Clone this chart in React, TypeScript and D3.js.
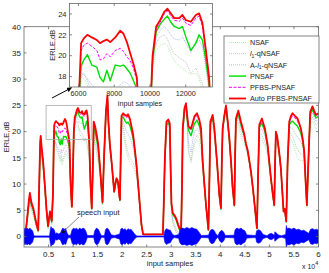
import React, { useRef, useEffect } from "react";
import * as d3 from "d3";

// sample index (x axis), shared by every ERLE curve
const samples = [
  0, 300, 700, 1000, 1200, 1500, 1900, 2300, 2600, 2900, 3150, 3300, 3400, 3600, 3900, 4250, 4600, 4900, 5100, 5300, 5500, 5650,
  5900, 6050, 6150, 6300, 6500, 6750, 7030, 7210, 7400, 7590, 7780, 8060, 8340, 8520, 8710, 8900, 9080, 9270, 9500, 9750, 9900,
  10150, 10350, 10570, 10800, 10980, 11170, 11360, 11640, 11820, 12010, 12290, 12570, 12750, 12940, 13130, 13310,
  13550, 13800, 14000, 14200, 14500, 14800, 15120, 15500, 16000, 16300, 16700, 17000, 17200, 17500, 17840, 18370, 18700, 18850, 19050, 19180, 19400, 19550,
  19700, 19870, 20200, 20500, 20900, 21200, 21560, 21900, 22240, 22600, 22920, 23300, 23600, 23940, 24270, 24600, 28300,
  28480, 28700, 29020, 29400, 29700, 29900, 30040, 30300, 30700, 30980, 31400, 31670, 32000, 32200, 32340, 32700, 33010, 33250, 33500, 34030, 34400, 34720, 35250, 35740, 36070, 36410, 36750, 37080, 37570,
  37800, 37970, 38440, 38790, 39320, 39800, 40130, 40300, 40470, 40800, 41150, 41500, 41840, 42200, 42510, 42860, 43000, 43180, 43670, 44200, 44600, 44890, 45200, 45560, 45900, 46240, 46600, 46920, 47460,
  47700, 47940, 48470, 49080, 49630, 50000, 50310, 50700, 50990, 51150, 51320, 51600, 52000, 52340, 52600, 52880, 53100, 53430,
  53700, 54040, 54400, 54710, 55200, 55730, 56100, 56410, 56800, 57090, 57400, 57630, 58000, 58320, 58780, 59100, 59460, 60000,
];

const nsaf = [
  0, 0.3, 3, 5.2, 6, 5, 3.8, 2.5, 1.4, 0.8, 10, 15.5, 16.5, 14.5, 12.5, 8.5, 4, 1.5, 2.5, 3.5, 2.8, 2.2,
  7, 15, 17.5, 17.8, 17.2, 16.2, 15.5, 14.8, 14.2, 14.8, 13.6, 14.6, 15.4, 15.8, 15.6, 15.2, 14.8, 14, 9.5, 5.5, 9.5,
  18.5, 20.5, 21, 21.2, 21, 20.2, 19.5, 19, 18.8, 18.5, 18.2, 18.3, 17.8, 16.8, 15.5, 14.2,
  9.5, 5, 11, 18.5, 17, 15.5, 14, 11.5, 6, 14.5, 23, 25.5, 20.5, 16, 13.5, 8.2, 9.8, 10.3, 10, 9.6, 7.6, 6.7,
  14.5, 21.5, 20, 18, 16, 15, 14, 13.7, 13.3, 12.3, 11.5, 8.5, 5.5, 1.8, 0.3, 0.3, 0.3,
  6, 14, 19.5, 19.8, 19, 10, 4.5, 2.5, 1.5, 0.8, 0.3, 0.1, 0, 9, 19, 23, 24, 21, 16, 14, 16, 17.5, 18.5, 17.5, 16.5, 12.5, 9.2, 5.6, 1.1,
  11, 20, 21, 18.8, 13.5, 7.5, 5, 13.2, 19.5, 22, 23.6, 20.8, 17.6, 13.2, 8.7, 5.6, 14.2, 20.5, 21, 19, 18, 17.6, 16.5, 15.5, 13.8, 11.8, 9, 6.3, 1.4,
  11.2, 19, 18.5, 17.2, 15.5, 13, 10.5, 7.6, 5.6, 13.2, 18.8, 17.8, 15.2, 12.4, 8.6, 4.5, 5, 2.6,
  13, 19.5, 18.5, 18, 16.5, 15, 14.5, 14.5, 14.5, 14, 9.5, 5.6, 15, 21.5, 22, 21.5, 20.5, 21,
];

const l1qNsaf = [
  0, 0.3, 3.3, 5.6, 6.4, 5.3, 4.2, 2.7, 1.6, 0.9, 10.5, 16, 17, 15, 13, 8.8, 4.3, 1.6, 2.8, 3.8, 3, 2.4,
  7.3, 15.5, 18, 18.3, 17.6, 16.6, 16, 15.3, 14.8, 15.5, 14.4, 15.2, 16, 16.4, 16.2, 15.8, 15.4, 14.6, 9.7, 5.6, 9.7,
  19, 21.2, 21.8, 22, 21.6, 20.8, 20.2, 19.8, 19.6, 19.4, 18.3, 18.8, 18.1, 17.3, 16, 14.8,
  9.6, 5.1, 11.3, 19, 17.8, 16.3, 14.6, 12, 6.2, 14.7, 23.3, 25.8, 21, 16.5, 13.8, 8.3, 10, 10.5, 10.2, 9.8, 7.7, 6.8,
  14.7, 22, 21, 19.3, 17, 16, 15, 14.6, 14, 13, 12, 8.8, 5.6, 1.9, 0.3, 0.3, 0.3,
  6.1, 14.3, 20, 20.3, 19.6, 10.5, 4.8, 2.8, 1.8, 1, 0.4, 0.2, 0.1, 9.2, 19.4, 23.5, 24.5, 21.6, 16.5, 14.5, 16.8, 18.3, 19.3, 18.5, 17.5, 13, 9.4, 5.7, 1.1,
  11.3, 20.5, 21.5, 19.3, 13.8, 7.6, 5.1, 13.5, 19.8, 22.3, 24, 21.2, 18, 13.5, 8.9, 5.7, 14.5, 21, 21.8, 20, 18.8, 18.3, 17, 15.8, 14, 12, 9.2, 6.4, 1.4,
  11.5, 19.6, 19.4, 18, 16, 13.3, 10.7, 7.7, 5.7, 13.5, 19.2, 18.2, 15.5, 12.6, 8.7, 4.6, 5.1, 2.7,
  13.3, 20.2, 19.5, 19, 17.8, 16.5, 16, 15.8, 15.5, 14.8, 9.7, 5.7, 15.3, 22, 22.8, 22.2, 21.3, 21.6,
];

const al1qNsaf = [
  0, 0.4, 3.6, 6, 6.8, 5.6, 4.6, 3, 1.8, 1, 11, 16.8, 17.8, 15.6, 13.5, 9.2, 4.6, 1.8, 3, 4.2, 3.3, 2.6,
  7.6, 16, 18.3, 18.2, 17.8, 17.2, 16.8, 16.2, 15.8, 16.6, 16, 16.6, 17.2, 17.5, 17.4, 17, 16.4, 15.5, 9.8, 5.6, 9.8,
  19.3, 21.8, 22.4, 22.8, 22.5, 22, 21.6, 21.5, 21.8, 21.2, 20.3, 21.4, 21.5, 20.8, 18.8, 16.5,
  9.8, 5.2, 11.6, 19.8, 18.8, 17.3, 15.6, 12.5, 6.3, 14.8, 23.6, 26.2, 21.4, 17, 14.1, 8.4, 10.2, 10.7, 10.4, 9.9, 7.8, 6.9,
  14.8, 22.3, 22, 21, 20, 19.5, 19, 18, 16.8, 15, 12.8, 9, 5.8, 2, 0.3, 0.3, 0.3,
  6.2, 14.6, 20.6, 21, 20.3, 11, 5.5, 3.3, 2.3, 1.6, 0.8, 0.4, 0.2, 9.5, 19.8, 23.8, 24.8, 22.2, 18, 16, 18.5, 19.8, 20.6, 19.8, 18.6, 13.5, 9.6, 5.8, 1.2,
  11.6, 21, 22.2, 19.8, 14, 7.7, 5.2, 13.7, 20.1, 22.6, 24.4, 21.5, 18.3, 13.7, 9, 5.8, 14.7, 21.5, 22.6, 20.8, 19.6, 18.8, 17.4, 16.1, 14.2, 12.2, 9.3, 6.5, 1.5,
  11.7, 20.2, 20.5, 19.2, 16.7, 13.6, 10.9, 7.8, 5.8, 13.7, 19.5, 18.5, 15.7, 12.8, 8.8, 4.7, 5.2, 2.8,
  13.6, 20.8, 20.8, 20.5, 19.8, 19, 18.5, 18, 17, 15.6, 9.8, 5.8, 15.6, 22.6, 23.5, 22.8, 22, 22.3,
];

const pnsaf = [
  0, 0.5, 3.8, 6.5, 7.6, 6, 5, 3.2, 2, 1.1, 11.5, 17.5, 18.6, 16.3, 14, 9.5, 4.8, 1.9, 3.3, 4.5, 3.6, 2.8,
  7.8, 16.5, 19, 19.6, 20.1, 19.1, 18.9, 17.9, 17.5, 18.6, 17.6, 19.1, 19, 19.1, 18.75, 18.3, 17.6, 16.8, 9.9, 5.7, 9.9,
  19.6, 22.3, 23, 23.5, 23.8, 23.2, 22.8, 22.6, 22.8, 21.8, 20.5, 21.2, 22, 21.5, 19.5, 17.2,
  9.9, 5.3, 11.8, 20.8, 19.8, 18.5, 16.8, 12.8, 6.4, 15, 23.8, 26.5, 21.7, 17.3, 14.2, 8.5, 10.4, 10.9, 10.6, 10.1, 7.9, 6.9,
  14.9, 22.6, 22.8, 22.2, 21.6, 21.8, 21.2, 20, 18.6, 16, 13.4, 9.3, 5.9, 2.1, 0.4, 0.4, 0.4,
  6.3, 14.8, 21.2, 21.6, 21, 11.5, 6, 4.2, 3.7, 3.2, 2, 1.3, 0.8, 9.8, 20.2, 24.2, 25.1, 22.6, 20.3, 19.2, 20.5, 21.5, 22.2, 21, 19.6, 14, 9.8, 5.9, 1.2,
  11.8, 21.4, 22.7, 20.2, 14.2, 7.8, 5.3, 13.9, 20.4, 22.8, 24.7, 21.8, 18.5, 13.9, 9.1, 5.9, 14.9, 22, 23.4, 21.3, 20, 19.2, 17.6, 16.3, 14.4, 12.3, 9.4, 6.6, 1.5,
  11.9, 20.8, 21.6, 20, 17.2, 13.8, 11, 7.9, 5.9, 13.8, 19.8, 18.8, 15.9, 12.9, 8.9, 4.8, 5.2, 2.8,
  13.8, 21.3, 21.8, 22, 21.5, 21, 20.3, 19.7, 18, 16, 9.9, 5.9, 15.8, 23.2, 24.2, 23.4, 22.6, 22.9,
];

const pfbsPnsaf = [
  0, 0.5, 4, 6.8, 8, 6.3, 5.2, 3.4, 2.1, 1.2, 12, 17.8, 19, 16.8, 14.2, 9.7, 5, 2, 3.4, 4.7, 3.7, 3,
  8, 16.8, 20.5, 21, 21.2, 20.9, 20.5, 19.6, 19.7, 20.2, 19.9, 20.5, 20.7, 20.4, 19.9, 19.5, 18.8, 17.6, 10, 5.7, 10,
  19.9, 22.6, 23.2, 24, 24.3, 23.8, 23.4, 23.3, 23.6, 23.1, 22.9, 23.6, 23.8, 22.8, 20.3, 17.8,
  10, 5.4, 12, 21.5, 20.6, 19.2, 17.3, 13, 6.5, 15, 24, 26.7, 21.9, 17.5, 14.3, 8.6, 10.5, 11, 10.7, 10.2, 8, 7,
  15, 22.8, 23.2, 22.9, 22.6, 23, 22.2, 20.8, 19.2, 16.4, 13.6, 9.4, 6, 2.2, 0.4, 0.4, 0.4,
  6.4, 15, 21.6, 22, 21.4, 11.8, 6.3, 4.4, 3.9, 3.4, 2.2, 1.5, 0.9, 10, 20.5, 24.4, 25.3, 22.9, 20.8, 20.2, 21.4, 22.5, 23.1, 21.9, 20.4, 14.2, 10, 6, 1.3,
  12, 21.7, 23, 20.5, 14.3, 7.9, 5.4, 14, 20.5, 23, 24.9, 22, 18.7, 14, 9.2, 6, 15, 22.3, 23.8, 21.7, 20.3, 19.3, 17.7, 16.4, 14.5, 12.4, 9.5, 6.7, 1.6,
  12, 21.1, 22.2, 20.4, 17.4, 14, 11.1, 8, 6, 14, 20, 19, 16, 13, 9, 4.8, 5.3, 2.9,
  14, 21.7, 22.6, 23, 22.6, 22, 21.2, 20.4, 18.4, 16.2, 10, 6, 16, 23.6, 24.6, 23.8, 23, 23.3,
];

const autoPfbs = [
  0, 0.5, 4, 7, 8.3, 6.5, 5.4, 3.5, 2.2, 1.2, 12, 18, 19.2, 17, 14.3, 9.8, 5, 2, 3.5, 4.8, 3.8, 3,
  8, 17, 21.2, 21.65, 22, 21.75, 21.5, 21.2, 21.4, 21.55, 21.3, 21.75, 22.4, 22.1, 21.3, 20.2, 19.2, 17.9, 10, 5.7, 10,
  20, 22.8, 23.4, 24.2, 24.5, 24.05, 23.6, 23.6, 23.9, 23.4, 23.25, 23.9, 24.05, 23.1, 20.5, 17.9,
  10, 5.4, 12, 21.9, 21, 19.5, 17.5, 13, 6.5, 15, 24, 26.8, 22, 17.5, 14.3, 8.6, 10.5, 11.1, 10.8, 10.2, 8, 7,
  15, 23, 23.5, 23.2, 23, 23.3, 22.5, 21, 19.4, 16.5, 13.7, 9.5, 6, 2.2, 0.4, 0.4, 0.4,
  6.4, 15, 21.9, 22.3, 21.6, 12, 6.4, 4.5, 4, 3.5, 2.3, 1.6, 0.95, 10, 20.6, 24.5, 25.4, 23, 21, 20.6, 21.8, 22.9, 23.5, 22.2, 20.6, 14.3, 10, 6, 1.3,
  12, 21.9, 23.2, 20.6, 14.3, 7.9, 5.4, 14, 20.6, 23, 25, 22, 18.7, 14, 9.2, 6, 15, 22.5, 24, 21.9, 20.5, 19.4, 17.8, 16.5, 14.5, 12.4, 9.5, 6.7, 1.6,
  12, 21.3, 22.5, 20.6, 17.5, 14, 11.1, 8, 6, 14, 20, 19, 16, 13, 9, 4.8, 5.3, 2.9,
  14, 21.9, 23, 23.5, 23, 22.5, 21.5, 20.6, 18.5, 16.2, 10, 6, 16, 23.8, 24.8, 24, 23.2, 23.5,
];

// speech input envelope (drawn symmetric around 0)
const speechX = [
  0, 200, 400, 600, 900, 1200, 1500, 1750, 1950, 2100,
  5200, 5350, 5500, 5700, 5900, 6200, 6400, 6700, 7000, 7400,
  7700, 7900, 8200, 8500, 8800, 9100, 9500, 9800, 10100, 10400,
  10700, 11000, 11300, 11700, 12000, 12300, 12600, 12900, 14200, 14450,
  14800, 15200, 15500, 15800, 16400, 16600, 16900, 17200, 17500, 17800,
  18500, 19500, 19700, 20000, 20300, 20600, 20900, 21200, 21500, 21800,
  22200, 22600, 23000, 28500, 28700, 29000, 29400, 29800, 30200, 30600,
  31500, 31800, 32200, 32700, 33200, 33700, 34200, 34700, 35200, 35600,
  36100, 37600, 37900, 38300, 38700, 39100, 39500, 39900, 40300, 40700,
  41000, 42800, 43000, 43400, 43800, 44200, 44600, 45000, 45400, 47200,
  47400, 47800, 48200, 48700, 49500, 50000, 50400, 50800, 51000, 51100,
  51500, 51800, 52500, 53300, 53450, 53600, 54000, 54500, 55000, 55500,
  56000, 56500, 57000, 57500, 58000, 58200, 58400, 58800, 59200, 59600,
  60000,
];
const speechAmp = [
  1.3, 1.6, 1.3, 1.6, 1.4, 1.6, 1.3, 1.1, 0.4, 0.12,
  0.12, 1.2, 1.9, 1.5, 1.6, 1.2, 0.5, 0.7, 0.5, 0.6,
  1.3, 1.6, 1.4, 1.5, 0.6, 0.2, 0.25, 1.3, 1.6, 1.4,
  1.6, 1.2, 1.6, 1.4, 1.6, 1.5, 1.0, 0.2, 0.2, 1.2,
  1.6, 1.3, 0.6, 0.15, 0.2, 1.3, 1.6, 1.4, 0.8, 0.3,
  0.2, 0.5, 1.4, 1.6, 1.3, 1.5, 1.1, 1.5, 1.3, 1.4,
  0.9, 0.4, 0.1, 0.08, 1.1, 1.5, 1.3, 1.2, 0.5, 0.2,
  0.35, 1.3, 1.6, 1.5, 1.7, 1.5, 1.7, 1.5, 1.4, 0.9,
  0.2, 0.25, 1.1, 1.4, 1.2, 0.5, 0.15, 0.9, 1.2, 0.8,
  0.2, 0.25, 1.3, 1.6, 1.4, 1.6, 1.3, 1.1, 0.3, 0.2,
  1.1, 1.3, 1.1, 0.4, 0.15, 0.5, 0.6, 0.4, 0.15, 0.9,
  0.6, 0.3, 0.15, 0.4, 2.1, 1.5, 1.6, 1.4, 1.6, 1.3,
  1.4, 1.1, 1.2, 0.9, 0.6, 1.0, 1.4, 1.5, 1.3, 1.4,
  1.2,
];

const mainXTicks = [5000, 10000, 15000, 20000, 25000, 30000, 35000, 40000, 45000, 50000, 55000, 60000];
const mainYTicks = [0, 5, 10, 15, 20, 25, 30, 35, 40];
const insetXTicks = [6000, 8000, 10000, 12000];
const insetYTicks = [18, 20, 22, 24];

const seriesNames = ["NSAF", "l1-qNSAF", "A-l1-qNSAF", "PNSAF", "PFBS-PNSAF", "Auto PFBS-PNSAF"];
const seriesValues = [nsaf, l1qNsaf, al1qNsaf, pnsaf, pfbsPnsaf, autoPfbs];
const seriesStyle = [
  { color: "#9ee89e", width: 0.8, dash: "1 1" },
  { color: "#b4b4b4", width: 0.8, dash: "1 1" },
  { color: "#9aa2ff", width: 0.8, dash: "1 1" },
  { color: "#00dd00", width: 1.4, dash: null },
  { color: "#ff00ff", width: 1.0, dash: "3 1.5" },
  { color: "#ff0000", width: 1.8, dash: null },
];

const W = 329;
const H = 273;
const FONT = "'Liberation Sans', Arial, Helvetica, sans-serif";
const AXIS = "#666";
const TEXT = "#222";

const App: React.FC = () => {
  const ref = useRef<SVGSVGElement | null>(null);

  useEffect(() => {
    const svg = d3.select(ref.current);
    svg.selectAll("*").remove();
    svg.attr("font-family", FONT);

    const defs = svg.append("defs");
    defs.append("marker")
      .attr("id", "arrowHead")
      .attr("viewBox", "0 0 10 10")
      .attr("refX", 9).attr("refY", 5)
      .attr("markerWidth", 5).attr("markerHeight", 5)
      .attr("orient", "auto")
      .append("path").attr("d", "M0,0 L10,5 L0,10 z").attr("fill", "#000");

    // ---------- main axes ----------
    const x = d3.scaleLinear().domain([0, 60000]).range([24, 318.5]);
    const y = d3.scaleLinear().domain([-2, 40]).range([247, 26.7]);

    defs.append("clipPath").attr("id", "mainClip").append("rect")
      .attr("x", x(0)).attr("y", y(40))
      .attr("width", x(60000) - x(0)).attr("height", y(-2) - y(40));

    const drawCurves = (
      g: d3.Selection<SVGGElement, unknown, null, undefined>,
      sx: d3.ScaleLinear<number, number>,
      sy: d3.ScaleLinear<number, number>
    ) => {
      seriesValues.forEach((vals, si) => {
        const st = seriesStyle[si];
        const pts = samples.map((s, i) => [s, vals[i]] as [number, number]);
        const line = d3.line<[number, number]>().x((d) => sx(d[0])).y((d) => sy(d[1]));
        g.append("path")
          .attr("d", line(pts)!)
          .attr("fill", "none")
          .attr("stroke", st.color)
          .attr("stroke-width", st.width)
          .attr("stroke-dasharray", st.dash)
          .attr("stroke-linejoin", "round");
      });
    };

    const main = svg.append("g").attr("clip-path", "url(#mainClip)");
    drawCurves(main, x, y);

    // speech waveform envelope
    const speech = speechX.map((s, i) => ({ s, a: speechAmp[i] }));
    const area = d3.area<{ s: number; a: number }>()
      .x((d) => x(d.s)).y0((d) => y(-d.a)).y1((d) => y(d.a));
    main.append("path").attr("d", area(speech)!).attr("fill", "#0000ff")
      .attr("stroke", "#0000ff").attr("stroke-width", 0.6);
    main.append("line")
      .attr("x1", x(0)).attr("x2", x(60000))
      .attr("y1", y(0)).attr("y2", y(0))
      .attr("stroke", "#0000ff").attr("stroke-width", 1.2);

    // main axes box + ticks
    svg.append("rect")
      .attr("x", x(0)).attr("y", y(40))
      .attr("width", x(60000) - x(0)).attr("height", y(-2) - y(40))
      .attr("fill", "none").attr("stroke", AXIS).attr("stroke-width", 0.8);

    mainXTicks.forEach((t) => {
      svg.append("line").attr("x1", x(t)).attr("x2", x(t)).attr("y1", y(-2)).attr("y2", y(-2) - 2.5)
        .attr("stroke", AXIS).attr("stroke-width", 0.8);
      svg.append("line").attr("x1", x(t)).attr("x2", x(t)).attr("y1", y(40)).attr("y2", y(40) + 2.5)
        .attr("stroke", AXIS).attr("stroke-width", 0.8);
      svg.append("text").attr("x", x(t)).attr("y", 256.5)
        .attr("text-anchor", "middle").attr("font-size", 8).attr("fill", TEXT)
        .text(d3.format("~g")(t / 1e4));
    });
    mainYTicks.forEach((t) => {
      svg.append("line").attr("x1", x(0)).attr("x2", x(0) + 2.5).attr("y1", y(t)).attr("y2", y(t))
        .attr("stroke", AXIS).attr("stroke-width", 0.8);
      svg.append("line").attr("x1", x(60000)).attr("x2", x(60000) - 2.5).attr("y1", y(t)).attr("y2", y(t))
        .attr("stroke", AXIS).attr("stroke-width", 0.8);
      svg.append("text").attr("x", 21).attr("y", y(t) + 2.8)
        .attr("text-anchor", "end").attr("font-size", 8).attr("fill", TEXT)
        .text(String(t));
    });

    svg.append("text").attr("x", 170).attr("y", 265.5)
      .attr("text-anchor", "middle").attr("font-size", 7.5).attr("fill", TEXT)
      .text("input samples");
    const sci = svg.append("text").attr("x", 302).attr("y", 269)
      .attr("font-size", 7).attr("fill", TEXT);
    sci.append("tspan").text("x 10");
    sci.append("tspan").attr("dy", -4).attr("font-size", 5.5).text("4");
    svg.append("text")
      .attr("transform", `translate(8.5, ${(y(40) + y(-2)) / 2}) rotate(-90)`)
      .attr("text-anchor", "middle").attr("font-size", 7.5).attr("fill", TEXT)
      .text("ERLE,dB");

    // zoom rectangle in the main plot
    svg.append("rect")
      .attr("x", x(4500)).attr("y", y(25))
      .attr("width", x(13700) - x(4500)).attr("height", y(18.5) - y(25))
      .attr("fill", "none").attr("stroke", "#aaa").attr("stroke-width", 0.8);

    // speech annotation
    svg.append("text").attr("x", 77).attr("y", 215)
      .attr("font-size", 7.5).attr("fill", TEXT).text("speech input");
    svg.append("line").attr("x1", 79).attr("y1", 217).attr("x2", 62).attr("y2", 233)
      .attr("stroke", "#555").attr("stroke-width", 0.7).attr("marker-end", "url(#arrowHead)");

    // ---------- inset ----------
    const ix = d3.scaleLinear().domain([5500, 13500]).range([69.5, 212.5]);
    const iy = d3.scaleLinear().domain([17, 25]).range([87, 3.5]);

    svg.append("rect")
      .attr("x", ix(5500)).attr("y", iy(25))
      .attr("width", ix(13500) - ix(5500)).attr("height", iy(17) - iy(25))
      .attr("fill", "#fff");
    defs.append("clipPath").attr("id", "insetClip").append("rect")
      .attr("x", ix(5500)).attr("y", iy(25))
      .attr("width", ix(13500) - ix(5500)).attr("height", iy(17) - iy(25));
    const inset = svg.append("g").attr("clip-path", "url(#insetClip)");
    drawCurves(inset, ix, iy);

    svg.append("rect")
      .attr("x", ix(5500)).attr("y", iy(25))
      .attr("width", ix(13500) - ix(5500)).attr("height", iy(17) - iy(25))
      .attr("fill", "none").attr("stroke", AXIS).attr("stroke-width", 0.8);
    insetXTicks.forEach((t) => {
      svg.append("line").attr("x1", ix(t)).attr("x2", ix(t)).attr("y1", iy(17)).attr("y2", iy(17) - 2.5)
        .attr("stroke", AXIS).attr("stroke-width", 0.8);
      svg.append("line").attr("x1", ix(t)).attr("x2", ix(t)).attr("y1", iy(25)).attr("y2", iy(25) + 2.5)
        .attr("stroke", AXIS).attr("stroke-width", 0.8);
      svg.append("text").attr("x", ix(t)).attr("y", 96)
        .attr("text-anchor", "middle").attr("font-size", 7.2).attr("fill", TEXT)
        .text(String(t));
    });
    insetYTicks.forEach((t) => {
      svg.append("line").attr("x1", ix(5500)).attr("x2", ix(5500) + 2.5).attr("y1", iy(t)).attr("y2", iy(t))
        .attr("stroke", AXIS).attr("stroke-width", 0.8);
      svg.append("line").attr("x1", ix(13500)).attr("x2", ix(13500) - 2.5).attr("y1", iy(t)).attr("y2", iy(t))
        .attr("stroke", AXIS).attr("stroke-width", 0.8);
      svg.append("text").attr("x", 66.5).attr("y", iy(t) + 2.7)
        .attr("text-anchor", "end").attr("font-size", 7.5).attr("fill", TEXT)
        .text(String(t));
    });
    svg.append("text").attr("x", 140).attr("y", 105.5)
      .attr("text-anchor", "middle").attr("font-size", 7.2).attr("fill", TEXT)
      .text("input samples");
    svg.append("text")
      .attr("transform", `translate(55, ${(iy(25) + iy(17)) / 2}) rotate(-90)`)
      .attr("text-anchor", "middle").attr("font-size", 7.5).attr("fill", TEXT)
      .text("ERLE,dB");

    // arrow from zoom rectangle to the inset
    svg.append("line").attr("x1", 52).attr("y1", 98).attr("x2", 71.5).attr("y2", 87.8)
      .attr("stroke", "#000").attr("stroke-width", 1).attr("marker-end", "url(#arrowHead)");

    // ---------- legend ----------
    const lg = svg.append("g");
    lg.append("rect").attr("x", 224).attr("y", 36).attr("width", 95).attr("height", 67)
      .attr("fill", "#fff").attr("stroke", AXIS).attr("stroke-width", 0.8);
    seriesNames.forEach((name, i) => {
      const st = seriesStyle[i];
      const ry = 42.5 + i * 11.2;
      lg.append("line").attr("x1", 229).attr("x2", 246).attr("y1", ry).attr("y2", ry)
        .attr("stroke", st.color).attr("stroke-width", st.width).attr("stroke-dasharray", st.dash);
      const t = lg.append("text").attr("x", 250).attr("y", ry + 2.6)
        .attr("font-size", 7.2).attr("fill", TEXT);
      if (name.includes("l1")) {
        const [pre, post] = name.split("l1");
        if (pre) t.append("tspan").text(pre);
        t.append("tspan").attr("font-style", "italic").text("l");
        t.append("tspan").attr("dy", 1.8).attr("font-size", 5).text("1");
        t.append("tspan").attr("dy", -1.8).text(post);
      } else {
        t.text(name);
      }
    });
  }, []);

  return (
    <svg
      ref={ref}
      width={W}
      height={H}
      style={{ position: "absolute", left: 0, top: 0, background: "#fff" }}
    />
  );
};

export default App;
